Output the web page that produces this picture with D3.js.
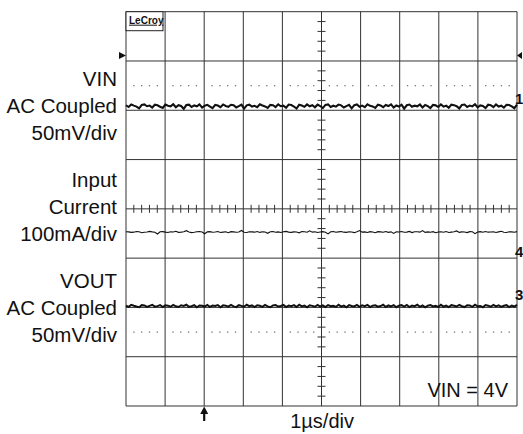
<!DOCTYPE html>
<html>
<head>
<meta charset="utf-8">
<script src="https://cdn.jsdelivr.net/npm/d3@7"></script>
<style>
  body { margin: 0; background: #fff; }
  text { font-family: "Liberation Sans", Arial, sans-serif; fill: #111; }
</style>
</head>
<body>
<script>
// scope settings
const timePerDiv = '1µs/div';
const note = 'VIN = 4V';
const channelNames = [
    ['VIN', 'AC Coupled', '50mV/div'],
    ['Input', 'Current', '100mA/div'],
    ['VOUT', 'AC Coupled', '50mV/div']
];
const channelIds = ['1', '4', '3'];
const channelOffsetDiv = [2.09, -0.47, -1.97];   // trace position on screen
const channelScale = [50, 100, 50];             // units per div

// sampled traces (mV, mA, mV), evenly spaced over 10 µs
const vinTrace = [0.6, -1.2, 1.4, 0.2, -0.8, -2.6, 0.9, 1.5, -0.4, 0.3, -1.7, 1.1, 0.5, -0.9, -2.2, 1.3, 0.1, -0.6, 1.6, -1.4,
    0.7, -0.2, -3.0, 0.8, 1.2, -1.1, 0.4, -0.5, 1.5, -1.8, 0.2, 1.0, -0.7, -2.4, 0.9, 0.3, -1.3, 1.4, -0.1, -0.9,
    1.1, 0.6, -1.6, -0.3, 1.3, -2.8, 0.5, 1.2, -0.8, 0.0, -1.4, 1.6, 0.4, -0.6, -2.1, 1.0, 0.7, -1.2, 1.5, -0.4,
    0.2, -1.9, 1.3, 0.8, -0.7, -2.7, 1.1, 0.3, -1.0, 1.4, -0.5, 0.6, -1.5, 1.2, -0.2, -2.3, 0.9, 1.5, -1.1, 0.1,
    -0.8, 1.3, 0.5, -1.7, -0.3, 1.0, -2.5, 0.7, 1.4, -0.9, 0.2, -1.3, 1.6, 0.0, -0.6, -2.0, 1.2, 0.4, -1.4, 0.9,
    -0.2, 1.5, -1.8, 0.3, -0.7, 1.1, -2.9, 0.6, 1.3, -1.0, 0.2, -0.5, 1.4, -1.6, 0.8, -0.3, -2.2, 1.0, 0.5, -1.2,
    1.5, -0.8, 0.1, -1.9, 1.2, 0.7, -0.4, -2.6, 0.9, 1.3, -1.1, 0.3, -0.6, 1.6, -1.5, 0.4, -0.1, -2.3, 1.1, 0.6,
    -1.3, 1.4, -0.7, 0.2, -1.8, 1.0, 0.8, -0.5, -2.4, 1.2];
const currentTrace = [0.5, 0.2, -0.8, -0.3, 0.9, 0.4, -1.5, -0.6, 0.1, 1.2, 0.3, -0.4, -4.0, 0.6, 0.8, -0.2, -1.0, 0.5, 0.0, 1.4,
    -0.7, -0.3, 0.6, 2.8, 0.2, -1.2, -0.5, 0.4, 0.9, -0.1, -3.5, 0.3, 0.7, -0.6, 0.1, 1.1, -0.9, -0.2, 0.5, -1.4,
    0.8, 0.3, -0.4, 0.0, 3.2, -0.5, -1.1, 0.6, 0.2, -0.3, 0.9, -0.8, 0.4, -0.1, -2.6, 0.7, 1.0, -0.4, 0.2, -0.9,
    0.5, 1.3, -0.2, -0.7, 0.3, 0.1, -1.6, 0.8, 0.4, -0.5, 2.4, -0.3, 0.6, -1.0, 0.0, 0.7, -0.4, -3.8, 0.5, 0.9,
    -0.6, 0.2, 1.1, -0.3, -0.8, 0.4, 0.0, -1.3, 0.6, 2.9, -0.2, 0.3, -0.9, 0.7, -0.1, -1.5, 0.8, 0.2, -0.4, 1.0,
    -0.7, 0.3, -2.8, 0.5, 0.1, 0.9, -0.5, -0.2, 1.2, -1.1, 0.4, 0.6, -0.3, 3.0, -0.8, 0.2, -0.6, 0.7, -1.4, 0.1,
    0.5, -0.4, 0.9, -1.0, -0.2, 0.6, 2.2, -0.7, 0.3, -0.1, -1.2, 0.8, 0.4, -3.2, 0.2, 0.7, -0.5, 1.1, -0.3, 0.0,
    0.6, -0.9, 0.3, 1.5, -0.4, -1.1, 0.5, 0.2, -0.6, 0.8];
const voutTrace = [0.4, -0.9, 1.1, 0.2, -0.6, -1.3, 0.8, 0.5, -1.0, 0.1, 1.2, -0.7, -0.2, 0.9, -1.2, 0.6, 0.3, -0.8, 1.0, -0.4,
    -1.1, 0.7, 0.0, 1.2, -0.9, -0.3, 0.8, -1.4, 0.5, 0.2, -0.6, 1.1, -1.0, 0.4, -0.1, 0.9, -1.3, 0.6, 0.3, -0.7,
    1.0, -0.5, -1.2, 0.8, 0.1, -0.8, 1.2, -0.3, 0.5, -1.1, 0.7, 0.2, -0.9, 1.1, -0.4, -1.3, 0.6, 0.9, -0.6, 0.0,
    1.0, -1.2, 0.4, -0.2, 0.8, -1.0, 1.2, -0.5, 0.3, -1.4, 0.7, 0.1, -0.8, 1.1, -0.6, 0.5, -1.1, 0.9, -0.3, 0.2,
    -1.0, 1.2, -0.7, 0.4, -1.3, 0.8, 0.0, -0.5, 1.0, -0.9, 0.6, -0.2, 1.1, -1.2, 0.3, 0.7, -0.8, -0.1, 1.2, -1.0,
    0.5, -0.4, 0.9, -1.3, 0.2, 0.8, -0.6, 1.0, -1.1, 0.4, -0.2, 1.2, -0.9, 0.6, -1.4, 0.3, 0.9, -0.5, 0.1, -1.0,
    1.1, -0.7, 0.4, -1.2, 0.8, 0.2, -0.6, 1.0, -0.3, -1.1, 0.7, 0.5, -0.9, 1.2, -0.4, 0.0, -1.3, 0.9, 0.3, -0.8,
    1.1, -0.5, 0.6, -1.0, 0.2, 0.8, -1.2, 0.4, -0.6, 1.0];
const traces = [vinTrace, currentTrace, voutTrace];

const W = 523, H = 434;
const gLeft = 126, gRight = 517, gTop = 11.7, gBottom = 406;

const svg = d3.select('body').append('svg')
    .attr('width', W).attr('height', H);

const x = d3.scaleLinear().domain([0, 10]).range([gLeft, gRight]);
const y = d3.scaleLinear().domain([-4, 4]).range([gBottom, gTop]);

// grid
const grid = svg.append('g').attr('stroke', '#333').attr('stroke-width', 1);
grid.selectAll('.vl').data(d3.range(0, 11)).enter().append('line')
    .attr('x1', d => x(d)).attr('x2', d => x(d))
    .attr('y1', gTop).attr('y2', gBottom);
grid.selectAll('.hl').data(d3.range(-4, 5)).enter().append('line')
    .attr('x1', gLeft).attr('x2', gRight)
    .attr('y1', d => y(d)).attr('y2', d => y(d));

// minor ticks on the centre axes
const minorX = d3.range(0, 10.01, 0.2).filter(d => Math.abs(d - Math.round(d)) > 0.01);
const minorY = d3.range(-4, 4.01, 0.2).filter(d => Math.abs(d - Math.round(d)) > 0.01);
grid.selectAll('.tx').data(minorX).enter().append('line')
    .attr('x1', d => x(d)).attr('x2', d => x(d))
    .attr('y1', y(0) - 4).attr('y2', y(0) + 4);
grid.selectAll('.ty').data(minorY).enter().append('line')
    .attr('x1', x(5) - 4).attr('x2', x(5) + 4)
    .attr('y1', d => y(d)).attr('y2', d => y(d));

// dotted rows
const dotRows = [2.5, -2.5];
svg.append('g').selectAll('g').data(dotRows).enter().append('g')
    .each(function(r) {
        d3.select(this).selectAll('rect').data(minorX).enter().append('rect')
            .attr('x', d => x(d) - 0.6).attr('y', y(r) - 0.6)
            .attr('width', 1.3).attr('height', 1.3).attr('fill', '#777');
    });

// traces
const line = d3.line()
    .x((d, i, arr) => x(i * 10 / (arr.length - 1)))
    .y(d => y(d));
const widths = [2.1, 1.1, 2.0];
traces.forEach((t, c) => {
    const pts = t.map(v => channelOffsetDiv[c] + v / channelScale[c]);
    svg.append('path').datum(pts)
        .attr('fill', 'none').attr('stroke', '#111')
        .attr('stroke-width', widths[c])
        .attr('d', line);
});

// channel labels on the left
const groupBase = [86, 187, 288];
channelNames.forEach((lines, c) => {
    svg.append('g').selectAll('text').data(lines).enter().append('text')
        .attr('x', 117).attr('y', (d, i) => groupBase[c] + i * 27)
        .attr('text-anchor', 'end').attr('font-size', 20.5)
        .text(d => d);
});

// channel ids at right edge
const idY = [104, 257, 300];
svg.append('g').selectAll('text').data(channelIds).enter().append('text')
    .attr('x', 515).attr('y', (d, i) => idY[i])
    .attr('font-size', 15).attr('font-weight', 'bold')
    .text(d => d);

// trigger level markers
svg.append('path').attr('d', 'M119,52 L126,55.5 L119,59 Z').attr('fill', '#111');
svg.append('path').attr('d', 'M517,55.5 L522,52 L522,59 Z').attr('fill', '#111');

// trigger position arrow
const tx = x(2);
svg.append('line').attr('x1', tx).attr('x2', tx).attr('y1', 411).attr('y2', 421)
    .attr('stroke', '#111').attr('stroke-width', 2.2);
svg.append('path').attr('d', `M${tx - 4},414 L${tx},406.5 L${tx + 4},414 Z`).attr('fill', '#111');

// bottom and box texts
svg.append('text').attr('x', x(4.2)).attr('y', 428)
    .attr('font-size', 20).text(timePerDiv);
svg.append('text').attr('x', 508).attr('y', 397)
    .attr('text-anchor', 'end').attr('font-size', 20).text(note);

// LeCroy tag
svg.append('rect').attr('x', gLeft).attr('y', gTop).attr('width', 37).attr('height', 19)
    .attr('fill', '#fff').attr('stroke', '#222').attr('stroke-width', 1);
svg.append('text').attr('x', gLeft + 3).attr('y', gTop + 12)
    .attr('font-size', 10).attr('font-weight', 'bold')
    .attr('text-decoration', 'underline').text('LeCroy');
</script>
</body>
</html>
